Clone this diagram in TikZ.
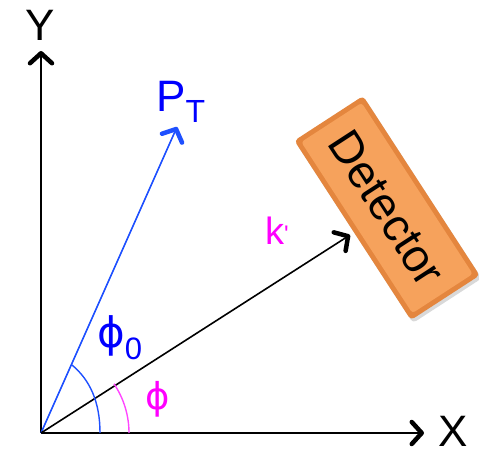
\documentclass[tikz,border=0pt]{standalone}
\usepackage{fontspec}
\setmainfont{Liberation Sans}
\newfontfamily\phifont{DejaVu Sans}
\usetikzlibrary{arrows.meta,shadows}
\definecolor{ptblue}{RGB}{30,80,255}
\definecolor{txtblue}{RGB}{0,0,255}
\definecolor{mag}{RGB}{255,0,255}
\definecolor{magarc}{RGB}{255,70,255}
\definecolor{detdark}{RGB}{228,134,62}
\definecolor{detmain}{RGB}{246,162,92}
\tikzset{
  barb/.style={-{Straight Barb[length=10pt,width=22pt,line width=4.5pt,round]}},
  axisline/.style={line width=1.9pt,black,barb},
  vecline/.style={line width=1.6pt,barb},
  biglabel/.style={font=\fontsize{44}{44}\selectfont,inner sep=0pt},
  detouter/.style={rotate=-57,minimum width=214pt,minimum height=82pt,fill=detdark,rounded corners=4pt,inner sep=0pt,
     drop shadow={shadow xshift=2pt,shadow yshift=-3pt,opacity=0.3}},
  detinner/.style={rotate=-57,minimum width=204pt,minimum height=72pt,fill=detmain,rounded corners=3pt,inner sep=0pt,
     font=\fontsize{46}{46}\selectfont},
}
\begin{document}
\begin{tikzpicture}[x=1pt,y=1pt]
\path[use as bounding box] (0,0) rectangle (479,452);
% coordinates
\coordinate (O) at (41,19);
\coordinate (Xend) at (424,19);
\coordinate (Yend) at (41,401);
\coordinate (PTend) at (177,325);
\coordinate (Kend) at (350,217);
% detector
\node[detouter] (detbox) at (387,244) {};
\node[detinner] (det) at (387,244) {Detector};
% axes
\draw[axisline] (O) -- (Xend);
\draw[axisline] (O) -- (Yend);
\node[biglabel] (xlab) at (453,21) {X};
\node[biglabel] (ylab) at (40,427) {Y};
% vectors
\draw[vecline,ptblue] (O) -- (PTend);
\draw[vecline,black] (O) -- (Kend);
% arcs
\draw[ptblue,line width=1.4pt] (100,19) .. controls (100,50) and (90,72) .. (72,87);
\draw[magarc,line width=1.4pt] (129,19) arc[start angle=0,end angle=34,radius=88];
% labels
\node[anchor=base west,inner sep=0pt,text=txtblue,font=\fontsize{44}{44}\selectfont] (ptlab) at (156,340)
  {P\raisebox{-11pt}{\fontsize{32}{32}\selectfont T}};
\node[anchor=base west,inner sep=0pt,text=mag,font=\fontsize{38}{38}\selectfont] (klab) at (265,207)
  {k\raisebox{2pt}{\fontsize{24}{24}\selectfont\textquotesingle}};
\node[anchor=base west,inner sep=0pt,text=txtblue] (phi0lab) at (97,104)
  {\phifont\fontsize{42}{42}\selectfont ϕ\raisebox{-12pt}{\fontsize{31}{31}\selectfont\rmfamily 0}};
\node[anchor=base west,inner sep=0pt,text=mag] (philab) at (145,42)
  {\phifont\fontsize{37}{37}\selectfont ϕ};
\end{tikzpicture}
\end{document}
